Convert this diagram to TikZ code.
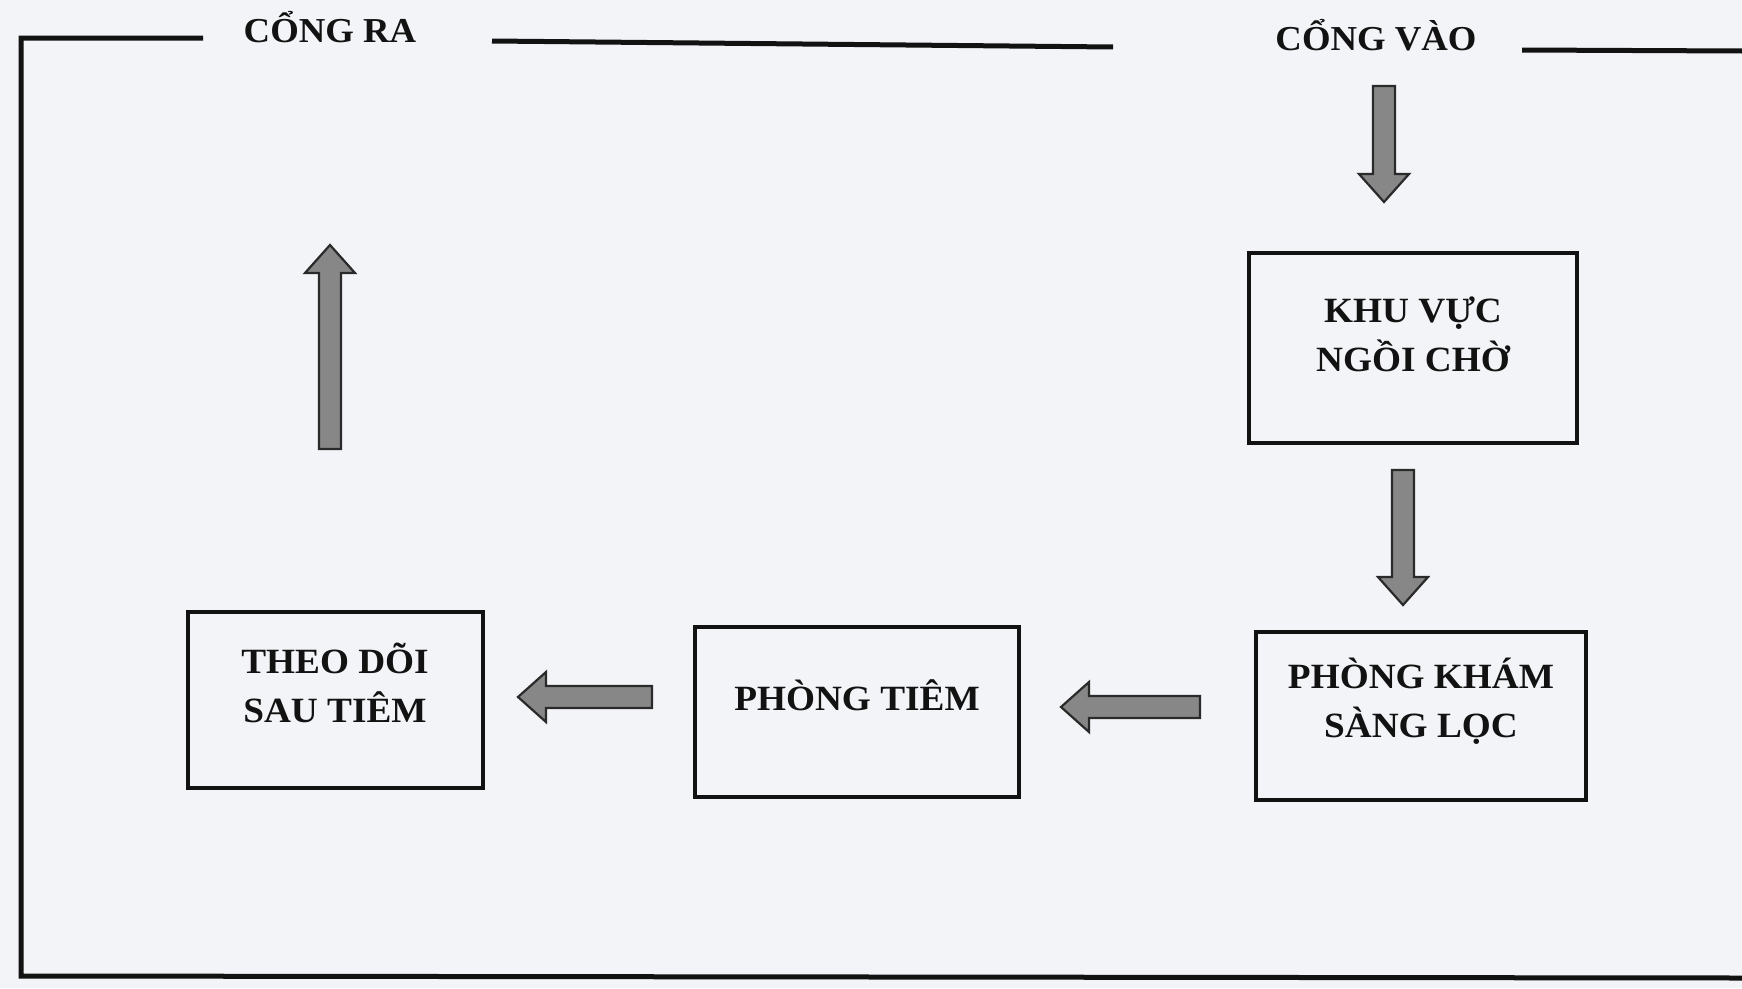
\documentclass[tikz,border=0pt]{standalone}
\usepackage{fontspec}
\newfontfamily\lblfont{Liberation Serif}[FakeStretch=1.05]
\usetikzlibrary{calc}
\definecolor{paper}{RGB}{242,244,247}
\definecolor{ink}{RGB}{18,18,18}
\definecolor{arrowfill}{RGB}{135,135,135}
\tikzset{
  wall/.style={draw=ink, line width=5pt, line join=miter},
  room/.style={draw=ink, line width=4pt, rectangle, inner sep=0pt},
  roomtxt/.style={font=\lblfont\bfseries\fontsize{35.5}{49}\selectfont, align=center, text=ink},
  gate/.style={font=\lblfont\bfseries\fontsize{35}{40}\selectfont, text=ink, anchor=base, inner sep=0pt},
  blockarrow/.style={draw=ink!90, fill=arrowfill, line width=2.2pt, line join=miter,
    to path={
      ($(\tikztotarget)!28pt!(\tikztostart)$) coordinate (bah)
      ($(\tikztostart)!11pt!90:(\tikztotarget)$)
        -- ($(bah)!11pt!90:(\tikztotarget)$)
        -- ($(bah)!25pt!90:(\tikztotarget)$)
        -- (\tikztotarget)
        -- ($(bah)!25pt!-90:(\tikztotarget)$)
        -- ($(bah)!11pt!-90:(\tikztotarget)$)
        -- ($(\tikztostart)!11pt!-90:(\tikztotarget)$) -- cycle
    }}
}
\begin{document}
\begin{tikzpicture}[x=1pt,y=-1pt]
  \fill[paper] (0,0) rectangle (1742,988);
  \useasboundingbox (0,0) rectangle (1742,988);

  % walls
  \draw[wall] (203,38) -- (21,38) -- (21,976) -- (1742,978);
  \draw[wall] (492,41) -- (1113,47);
  \draw[wall] (1522,50) -- (1742,51);

  % gates
  \node[gate] (ra) at (330,42) {CỔNG RA};
  \node[gate] (vao) at (1376,50) {CỔNG VÀO};

  % rooms
  \node[room, minimum width=328pt, minimum height=190pt,
        label={[roomtxt, yshift=14pt]center:KHU VỰC\\NGỒI CHỜ}] (khu) at (1413,348) {};
  \node[room, minimum width=330pt, minimum height=168pt,
        label={[roomtxt, yshift=15pt]center:PHÒNG KHÁM\\SÀNG LỌC}] (kham) at (1421,716) {};
  \node[room, minimum width=324pt, minimum height=170pt,
        label={[roomtxt, yshift=17pt]center:PHÒNG TIÊM}] (tiem) at (857,712) {};
  \node[room, minimum width=295pt, minimum height=176pt,
        label={[roomtxt, yshift=17pt]center:THEO DÕI\\SAU TIÊM}] (theo) at (335,700) {};

  % arrow end points
  \coordinate (a1s) at (1384,86);   \coordinate (a1e) at (1384,202);
  \coordinate (a2s) at (1403,470);  \coordinate (a2e) at (1403,605);
  \coordinate (a3s) at (1200,707);  \coordinate (a3e) at (1061,707);
  \coordinate (a4s) at (652,697);   \coordinate (a4e) at (518,697);
  \coordinate (a5s) at (330,449);   \coordinate (a5e) at (330,245);

  \draw[blockarrow] (a1s) to (a1e);
  \draw[blockarrow] (a2s) to (a2e);
  \draw[blockarrow] (a3s) to (a3e);
  \draw[blockarrow] (a4s) to (a4e);
  \draw[blockarrow] (a5s) to (a5e);
\end{tikzpicture}
\end{document}
